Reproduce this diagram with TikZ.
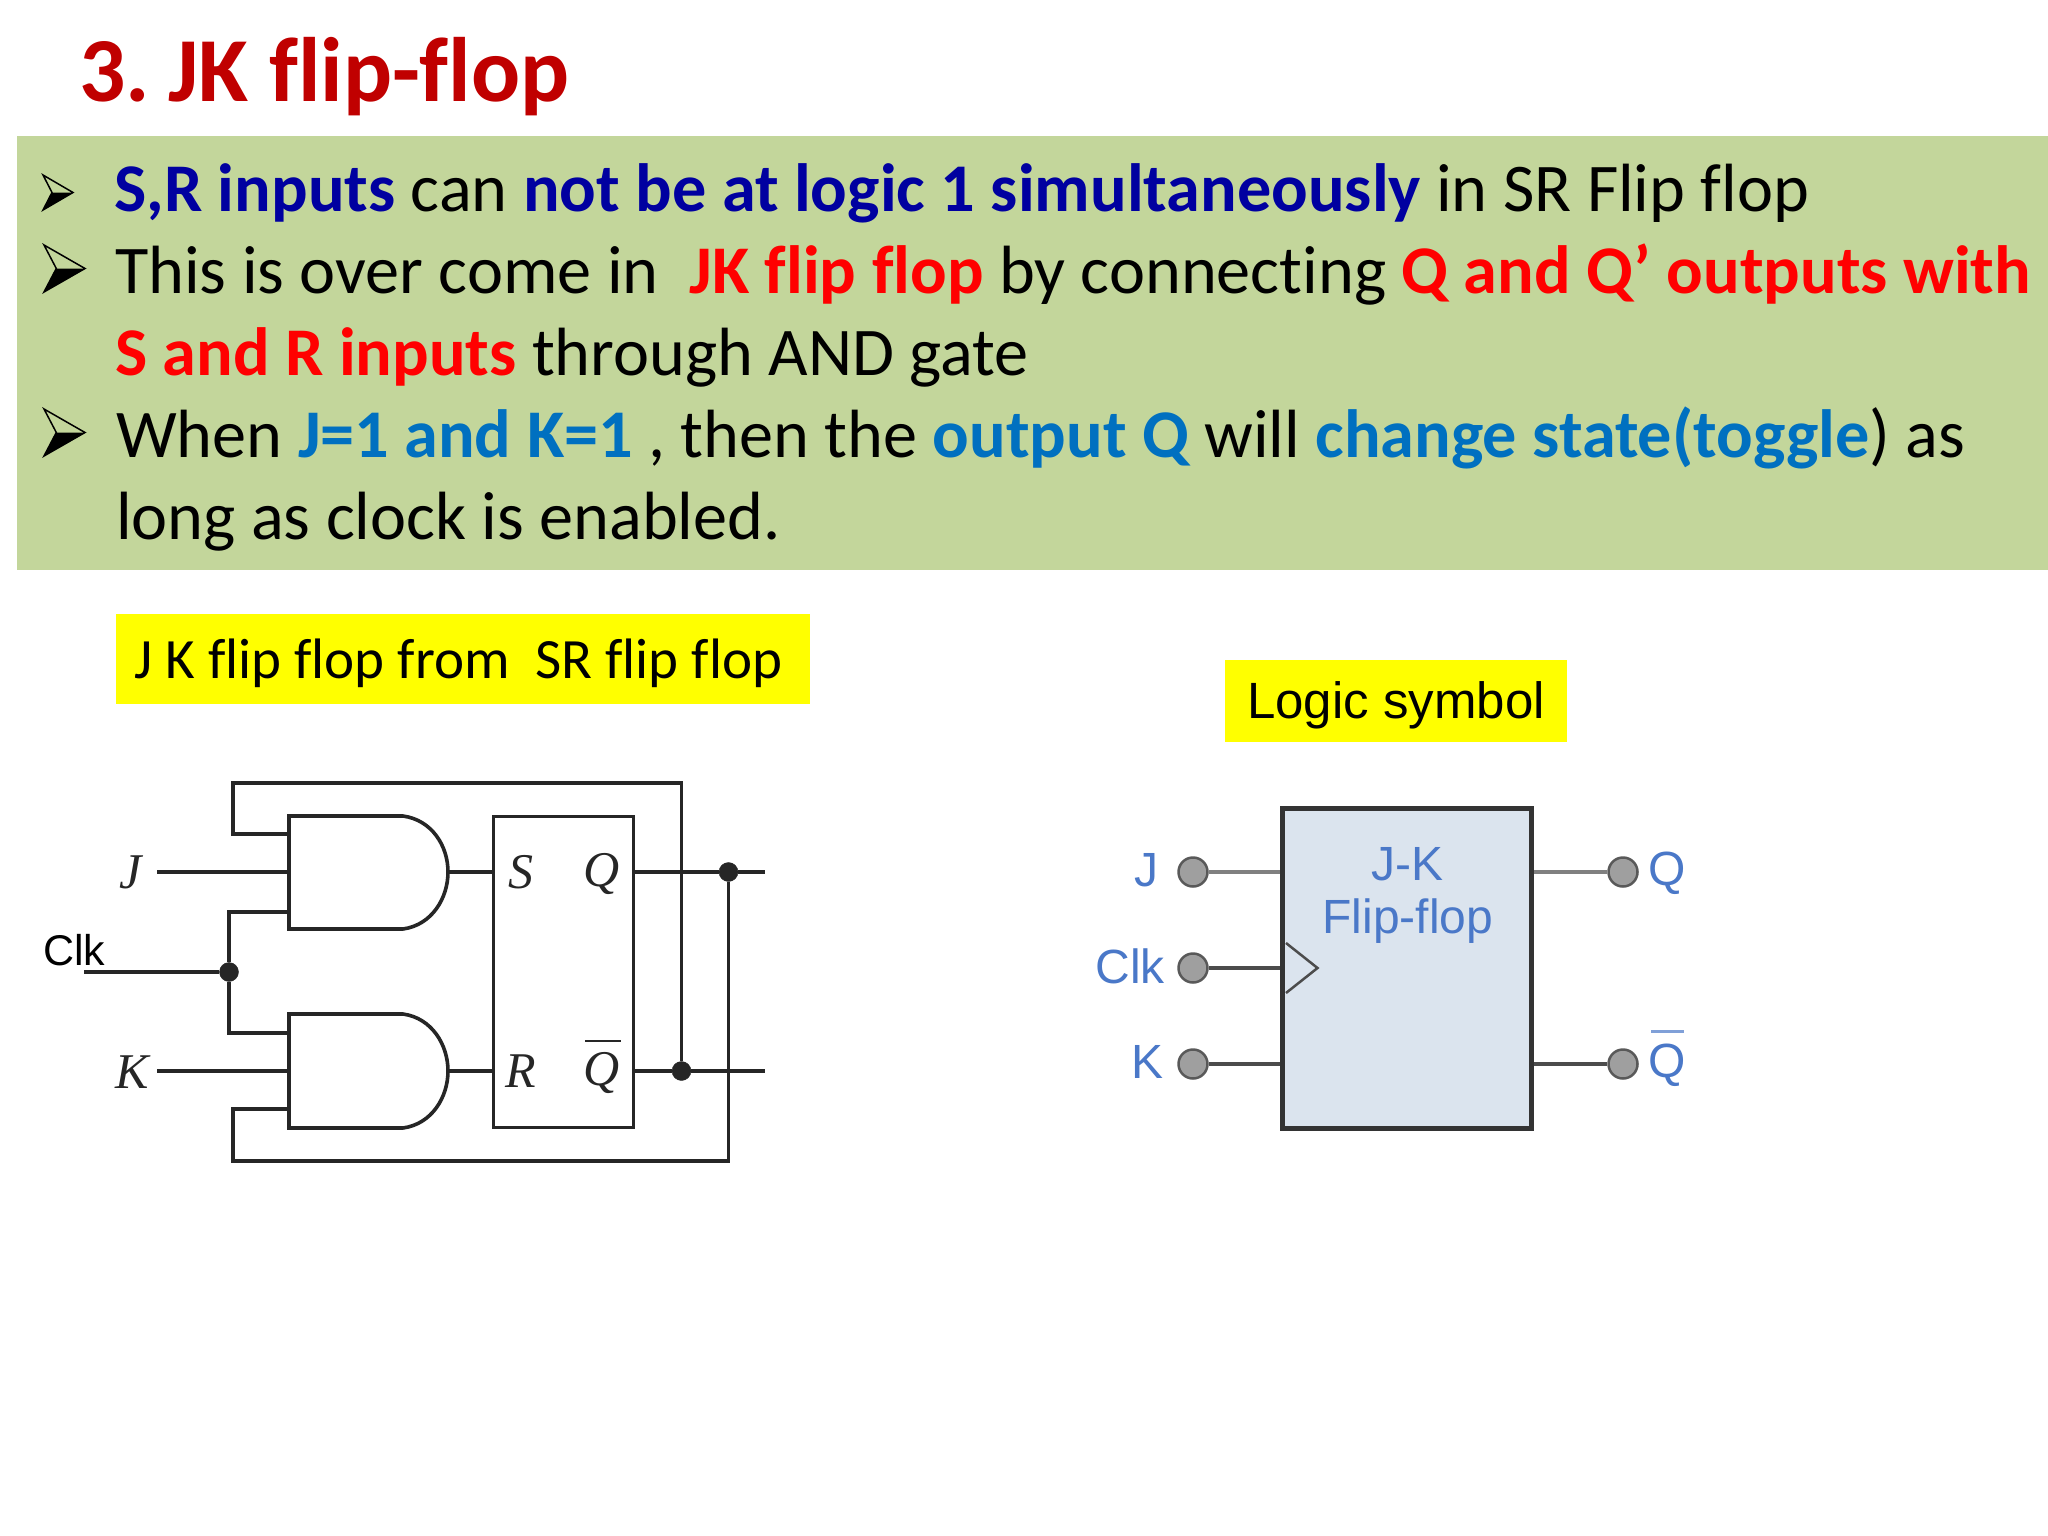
\documentclass[tikz,border=0pt]{standalone}
\usepackage{fontspec}
\setmainfont[Ligatures=NoCommon]{Carlito}
\newfontfamily\arialf{Liberation Sans}
\newfontfamily\timesf{Liberation Serif}
\definecolor{bandgreen}{HTML}{C3D69B}
\definecolor{titlered}{HTML}{C00000}
\definecolor{navyt}{HTML}{0000A0}
\definecolor{redt}{HTML}{FF0000}
\definecolor{bluet}{HTML}{0070C0}
\definecolor{hiyellow}{HTML}{FFFF00}
\definecolor{symfill}{HTML}{DBE4EE}
\definecolor{symtext}{HTML}{4A78C8}
\definecolor{wirek}{HTML}{262626}
\newcommand{\nv}[1]{\textbf{\textcolor{navyt}{#1}}}
\newcommand{\rd}[1]{\textbf{\textcolor{redt}{#1}}}
\newcommand{\bl}[1]{\textbf{\textcolor{bluet}{#1}}}
\tikzset{
  body/.style={anchor=base west,inner sep=0pt,font=\fontsize{68.25}{72}\selectfont},
  wire/.style={draw=wirek,line width=3.6pt},
  gate/.style={draw=wirek,line width=3.6pt,fill=white},
  jdot/.style={circle,fill=wirek,draw=wirek,minimum size=19pt,inner sep=0pt},
  ital/.style={inner sep=0pt,text=wirek,font=\fontsize{50}{50}\selectfont\timesf\itshape},
  pin/.style={circle,fill=gray!75,draw=black!65,line width=2.5pt,minimum size=29pt,inner sep=0pt},
  symlabel/.style={inner sep=0pt,text=symtext,font=\fontsize{48}{48}\selectfont\arialf},
  bullet/.style={draw=black,line width=1.5pt,line join=miter}
}
\begin{document}
\begin{tikzpicture}[x=1pt,y=-1pt]
\useasboundingbox (0,0) rectangle (2048,1536);
% title
\node[anchor=base west,inner sep=0pt,text=titlered,font=\fontsize{91.5}{100}\selectfont\bfseries] (title) at (79,102) {3.\kern-2.5pt\ JK flip-flop};
% band
\fill[bandgreen] (17,136) rectangle (2048,570);
% text lines
\node[body] (l1) at (114,211) {\nv{S,R inputs} can \nv{not be at logic 1 simultaneously} in SR Flip flop};
\node[body] (l2) at (115,293) {This is over come in\ \ \rd{JK flip flop} by connecting \rd{Q and Q’ outputs with}};
\node[body] (l3) at (115,375) {\rd{S and R inputs} through AND gate};
\node[body] (l4) at (116,457) {When \bl{J=1 and K=1} , then the \bl{output Q} will \bl{change state(toggle}) as};
\node[body] (l5) at (116,539) {long as clock is enabled.};
% bullets
\foreach \xa/\ya/\w/\h in {43/175/30/35,44/245/41/47,44/409/41/47}{
  \fill[black] (\xa,\ya+\h) -- (\xa+\w,\ya+\h/2) -- (\xa+0.3*\w,\ya+\h/2) -- cycle;
  \draw[bullet] (\xa,\ya) -- (\xa+\w,\ya+\h/2) -- (\xa,\ya+\h) -- (\xa+0.3*\w,\ya+\h/2) -- cycle;
}
% yellow labels
\fill[hiyellow] (116,614) rectangle (810,704);
\node[anchor=base,inner sep=0pt,font=\fontsize{57}{60}\selectfont] (lab1) at (458.5,678) {J K flip flop from\ \ SR flip flop};
\fill[hiyellow] (1225,660) rectangle (1567,742);
\node[anchor=base,inner sep=0pt,font=\fontsize{51}{56}\selectfont\arialf] (lab2) at (1396,718) {Logic symbol};

% ---- left circuit
\coordinate (g1a) at (289,834);
\coordinate (g1b) at (289,872);
\coordinate (g1c) at (289,912);
\coordinate (g1o) at (448,872);
\coordinate (g2a) at (289,1033);
\coordinate (g2b) at (289,1071);
\coordinate (g2c) at (289,1109);
\coordinate (g2o) at (448,1071);
\node[ital,anchor=center] (J) at (131,872) {J};
\node[ital,anchor=center] (K) at (132,1072) {K};
\node[anchor=base west,inner sep=0pt,font=\fontsize{43}{43}\selectfont\arialf] (clk) at (43,965) {Clk};
\coordinate (clkin) at (84,972);
\coordinate (jin) at (157,872);
\coordinate (kin) at (157,1071);
\draw[gate] (289,816) -- (403,816) .. controls (432,820) and (448,846) .. (g1o) .. controls (448,898) and (432,925) .. (403,929) -- (289,929) -- cycle;
\draw[gate] (289,1014) -- (403,1014) .. controls (432,1018) and (448,1045) .. (g2o) .. controls (448,1097) and (432,1124) .. (403,1128) -- (289,1128) -- cycle;
\node[draw=wirek,line width=3.6pt,minimum width=140pt,minimum height=311pt,inner sep=0pt,anchor=north west] (sr) at (491.5,814.5) {};
\coordinate (srs) at (sr.west |- g1o);
\coordinate (srr) at (sr.west |- g2o);
\coordinate (srq) at (sr.east |- g1o);
\coordinate (srn) at (sr.east |- g2o);
\node[ital] (S) at (521,872) {S};
\node[ital] (R) at (521,1071) {R};
\node[ital] (Q) at (602,874) {Q};
\node[ital] (Qn) at (602,1073) {Q};
\draw[line width=2.5pt,wirek] (585,1041) -- (621,1041);
\node[jdot] (dclk) at (229,972) {};
\node[jdot] (dq) at (728.5,872) {};
\node[jdot] (dn) at (681.5,1071) {};
\coordinate (qend) at (765,872);
\coordinate (nend) at (765,1071);
\draw[wire] (jin) -- (g1b);
\draw[wire] (kin) -- (g2b);
\draw[wire] (clkin) -- (dclk);
\draw[wire] (g1o) -- (srs);
\draw[wire] (g2o) -- (srr);
\draw[wire] (srq) -- (dq) -- (qend);
\draw[wire] (srn) -- (dn) -- (nend);
\draw[wire] (g1c) -| (dclk);
\draw[wire] (g2a) -| (dclk);
\draw[wire] (g1a) -- (233,834) -- (233,783) -- (681.5,783) -- (dn);
\draw[wire] (g2c) -- (233,1109) -- (233,1161) -- (728.5,1161) -- (dq);

% ---- logic symbol
\node[draw=black!80,fill=symfill,line width=5pt,minimum width=249pt,minimum height=320pt,inner sep=0pt,anchor=north west] (ff) at (1280,805.5) {};
\draw[black!70,line width=2.5pt,fill=symfill] (1286,943) -- (1317.5,968) -- (1286,993);
\node[pin] (pj) at (1193,872) {};
\node[pin] (pc) at (1193,968) {};
\node[pin] (pk) at (1193,1064) {};
\node[pin] (pq) at (1623,872) {};
\node[pin] (pn) at (1623,1064) {};
\draw[gray,line width=4.5pt] (pj) -- (ff.west |- pj);
\draw[black!70,line width=4.5pt] (pc) -- (ff.west |- pc);
\draw[black!70,line width=4.5pt] (pk) -- (ff.west |- pk);
\draw[gray,line width=4.5pt] (ff.east |- pq) -- (pq);
\draw[black!70,line width=4.5pt] (ff.east |- pn) -- (pn);
\node[symlabel] (tj) at (1146,870) {J};
\node[symlabel] (tc) at (1130,966) {Clk};
\node[symlabel] (tk) at (1147,1062) {K};
\node[symlabel] (tq) at (1667,873) {Q};
\node[symlabel] (tn) at (1667,1065) {Q};
\draw[symtext!70,line width=3pt] (1651,1031) -- (1684,1031);
\node[symlabel] (t1) at (1407,864) {J-K};
\node[symlabel] (t2) at (1408,921) {Flip-flop};
\end{tikzpicture}
\end{document}
